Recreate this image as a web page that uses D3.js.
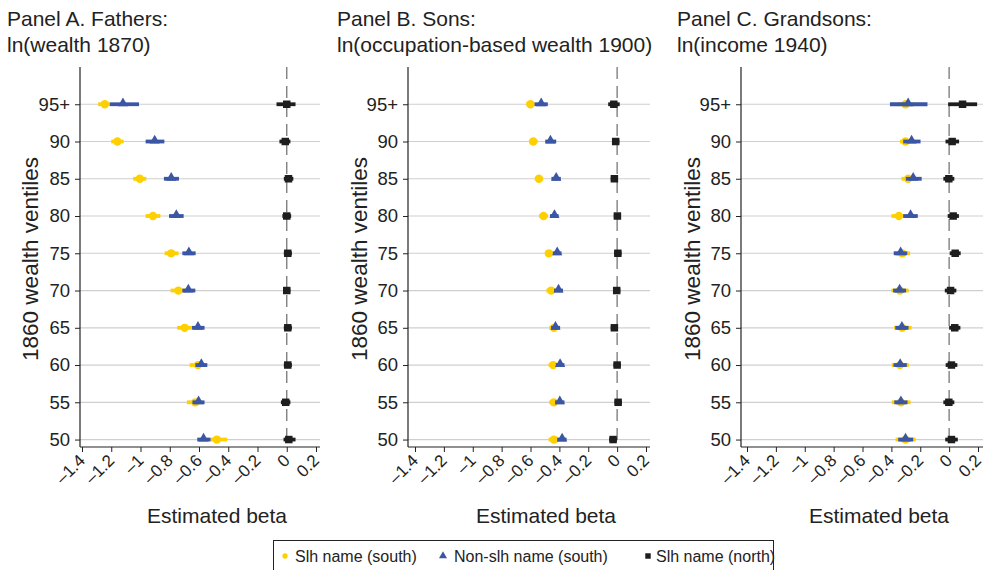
<!DOCTYPE html>
<html>
<head>
<meta charset="utf-8">
<script src="https://cdn.jsdelivr.net/npm/d3@7/dist/d3.min.js"></script>
<style>
  html, body { margin: 0; padding: 0; background: #fff; }
  svg { display: block; font-family: "Liberation Sans", Arial, Helvetica, sans-serif; }
</style>
</head>
<body>
<svg id="chart" width="986" height="570"></svg>
<script>
// Wealth ventiles of 1860 (rows) and their tick labels
const ventiles = [50, 55, 60, 65, 70, 75, 80, 85, 90, 95];
const ventileLabels = ["50", "55", "60", "65", "70", "75", "80", "85", "90", "95+"];
const xTicks = [-1.4, -1.2, -1, -0.8, -0.6, -0.4, -0.2, 0, 0.2];

const panelTitles = [
  ["Panel A. Fathers:", "ln(wealth 1870)"],
  ["Panel B. Sons:", "ln(occupation-based wealth 1900)"],
  ["Panel C. Grandsons:", "ln(income 1940)"]
];
const seriesNames = ["Slh name (south)", "Non-slh name (south)", "Slh name (north)"];
const seriesColors = ["#FFD000", "#3A56A5", "#1E1E1E"];

// Panel A: fathers
const fatherSlhSouth   = [-0.478, -0.625, -0.607, -0.698, -0.741, -0.790, -0.915, -1.005, -1.158, -1.244];
const fatherSlhSouthLo = [-0.521, -0.683, -0.664, -0.750, -0.794, -0.835, -0.965, -1.050, -1.200, -1.290];
const fatherSlhSouthHi = [-0.407, -0.591, -0.575, -0.648, -0.691, -0.740, -0.864, -0.960, -1.115, -1.210];
const fatherNonSouth   = [-0.569, -0.603, -0.584, -0.607, -0.673, -0.669, -0.755, -0.790, -0.903, -1.120];
const fatherNonSouthLo = [-0.612, -0.645, -0.625, -0.648, -0.714, -0.714, -0.805, -0.840, -0.965, -1.210];
const fatherNonSouthHi = [-0.521, -0.562, -0.543, -0.562, -0.625, -0.623, -0.705, -0.737, -0.837, -1.010];
const fatherSlhNorth   = [0.014, -0.007, 0.007, 0.007, 0.000, 0.007, 0.000, 0.012, -0.010, 0.000];
const fatherSlhNorthLo = [-0.022, -0.040, -0.020, -0.020, -0.025, -0.020, -0.030, -0.020, -0.050, -0.070];
const fatherSlhNorthHi = [0.060, 0.025, 0.035, 0.035, 0.025, 0.035, 0.030, 0.045, 0.025, 0.060];

// Panel B: sons
const sonSlhSouth   = [-0.438, -0.438, -0.443, -0.438, -0.457, -0.473, -0.510, -0.542, -0.581, -0.600];
const sonSlhSouthLo = [-0.475, -0.470, -0.475, -0.470, -0.490, -0.500, -0.540, -0.570, -0.610, -0.630];
const sonSlhSouthHi = [-0.408, -0.408, -0.413, -0.408, -0.427, -0.443, -0.480, -0.512, -0.551, -0.572];
const sonNonSouth   = [-0.381, -0.397, -0.395, -0.427, -0.406, -0.415, -0.434, -0.422, -0.462, -0.526];
const sonNonSouthLo = [-0.415, -0.430, -0.425, -0.458, -0.437, -0.445, -0.465, -0.455, -0.498, -0.572];
const sonNonSouthHi = [-0.350, -0.365, -0.365, -0.395, -0.375, -0.385, -0.405, -0.390, -0.422, -0.480];
const sonSlhNorth   = [-0.028, 0.007, 0.000, -0.019, -0.003, 0.005, 0.002, -0.019, -0.010, -0.023];
const sonSlhNorthLo = [-0.055, -0.018, -0.025, -0.044, -0.028, -0.020, -0.023, -0.044, -0.035, -0.062];
const sonSlhNorthHi = [-0.001, 0.032, 0.025, 0.006, 0.022, 0.030, 0.027, 0.006, 0.015, 0.018];

// Panel C: grandsons
const grandSlhSouth   = [-0.302, -0.334, -0.341, -0.325, -0.341, -0.325, -0.348, -0.284, -0.302, -0.302];
const grandSlhSouthLo = [-0.371, -0.397, -0.397, -0.381, -0.400, -0.385, -0.400, -0.330, -0.340, -0.360];
const grandSlhSouthHi = [-0.232, -0.267, -0.279, -0.260, -0.280, -0.270, -0.307, -0.260, -0.270, -0.240];
const grandNonSouth   = [-0.302, -0.334, -0.339, -0.327, -0.343, -0.336, -0.267, -0.249, -0.260, -0.284];
const grandNonSouthLo = [-0.353, -0.380, -0.385, -0.373, -0.388, -0.383, -0.318, -0.300, -0.318, -0.410];
const grandNonSouthHi = [-0.249, -0.288, -0.293, -0.281, -0.298, -0.290, -0.217, -0.190, -0.198, -0.150];
const grandSlhNorth   = [0.016, -0.002, 0.016, 0.039, 0.010, 0.042, 0.028, -0.002, 0.021, 0.093];
const grandSlhNorthLo = [-0.027, -0.040, -0.024, 0.000, -0.030, 0.004, -0.010, -0.040, -0.025, -0.007];
const grandSlhNorthHi = [0.060, 0.036, 0.057, 0.078, 0.050, 0.080, 0.068, 0.036, 0.069, 0.194];

const panelData = [
  [[fatherSlhSouth, fatherSlhSouthLo, fatherSlhSouthHi],
   [fatherNonSouth, fatherNonSouthLo, fatherNonSouthHi],
   [fatherSlhNorth, fatherSlhNorthLo, fatherSlhNorthHi]],
  [[sonSlhSouth, sonSlhSouthLo, sonSlhSouthHi],
   [sonNonSouth, sonNonSouthLo, sonNonSouthHi],
   [sonSlhNorth, sonSlhNorthLo, sonSlhNorthHi]],
  [[grandSlhSouth, grandSlhSouthLo, grandSlhSouthHi],
   [grandNonSouth, grandNonSouthLo, grandNonSouthHi],
   [grandSlhNorth, grandSlhNorthLo, grandSlhNorthHi]]
];

// Panel frames: y-axis position, pixel span of -1.4 .. 0.2, right edge of plot area
const frames = [
  { axis: 80,  x0: 82,  x1: 316, right: 320, title: 7,   ylab: 30 },
  { axis: 408, x0: 415, x1: 646, right: 650, title: 337, ylab: 359 },
  { axis: 741, x0: 747, x1: 978, right: 983, title: 677, ylab: 692 }
];
const plotTop = 67, plotBottom = 447;

const svg = d3.select("#chart");
const y = d3.scaleLinear().domain([49, 100]).range([plotBottom, plotTop]);
const fmt = v => (v < 0 ? "\u2013" : "") + String(Math.abs(v));

const tri = d3.symbol().type(d3.symbolTriangle).size(44);
const sq = d3.symbol().type(d3.symbolSquare).size(56);
const dot = d3.symbol().type(d3.symbolCircle).size(54);
const shapes = [dot, tri, sq];

frames.forEach((f, p) => {
  const x = d3.scaleLinear().domain([-1.4, 0.2]).range([f.x0, f.x1]);
  const g = svg.append("g");

  // Titles
  const t = g.append("text").attr("x", f.title).attr("y", 26)
    .attr("font-size", 21).attr("fill", "#222");
  t.append("tspan").attr("x", f.title).text(panelTitles[p][0]);
  t.append("tspan").attr("x", f.title).attr("dy", 26).text(panelTitles[p][1]);

  // Gridlines
  g.selectAll("line.grid").data(ventiles).join("line")
    .attr("x1", f.axis).attr("x2", f.right)
    .attr("y1", d => y(d)).attr("y2", d => y(d))
    .attr("stroke", "#cfcfcf").attr("stroke-width", 1.2);

  // Zero reference line
  g.append("line")
    .attr("x1", x(0)).attr("x2", x(0))
    .attr("y1", plotTop).attr("y2", plotBottom)
    .attr("stroke", "#777").attr("stroke-width", 1.3)
    .attr("stroke-dasharray", "12,7");

  // Y axis
  const yAxis = d3.axisLeft(y).tickValues(ventiles)
    .tickFormat((d, i) => ventileLabels[i]).tickSizeOuter(0).tickSize(5).tickPadding(5);
  const ya = g.append("g").attr("transform", `translate(${f.axis},0)`).call(yAxis);
  ya.select(".domain").attr("d", `M0,${plotTop}V${plotBottom}`).attr("stroke", "#222").attr("stroke-width", 1.2);
  ya.selectAll(".tick line").attr("stroke", "#222");
  ya.selectAll(".tick text").attr("font-size", 18.5).attr("fill", "#222")
    .attr("font-family", "Liberation Sans, Arial, sans-serif");

  // X axis
  const xAxis = d3.axisBottom(x).tickValues(xTicks).tickFormat(fmt)
    .tickSizeOuter(0).tickSize(5);
  const xa = g.append("g").attr("transform", `translate(0,${plotBottom})`).call(xAxis);
  xa.select(".domain").attr("d", `M${f.axis},0H${f.right}`).attr("stroke", "#222").attr("stroke-width", 1.2);
  xa.selectAll(".tick line").attr("stroke", "#222");
  xa.selectAll(".tick text")
    .attr("font-size", 17).attr("fill", "#222")
    .attr("font-family", "Liberation Sans, Arial, sans-serif")
    .attr("text-anchor", "end").attr("y", 0).attr("dy", "0.3em")
    .attr("transform", "translate(0,11) rotate(-45)");

  // Axis titles
  g.append("text").attr("x", (f.axis + f.right) / 2 + 17).attr("y", 523)
    .attr("text-anchor", "middle").attr("font-size", 21).attr("fill", "#222")
    .text("Estimated beta");
  g.append("text")
    .attr("transform", `translate(${f.ylab + 8},${(plotTop + plotBottom) / 2 + 2}) rotate(-90)`)
    .attr("text-anchor", "middle").attr("font-size", 22.5).attr("fill", "#222")
    .text("1860 wealth ventiles");

  // Series: confidence intervals and point estimates
  panelData[p].forEach((s, k) => {
    const [est, lo, hi] = s;
    const rows = ventiles.map((v, i) => ({ v, est: est[i], lo: lo[i], hi: hi[i] }));
    const sg = g.append("g");
    sg.selectAll("line").data(rows).join("line")
      .attr("x1", d => x(d.lo)).attr("x2", d => x(d.hi))
      .attr("y1", d => y(d.v)).attr("y2", d => y(d.v))
      .attr("stroke", seriesColors[k]).attr("stroke-width", 3.8);
    sg.selectAll("path").data(rows).join("path")
      .attr("d", shapes[k])
      .attr("transform", d => `translate(${x(d.est)},${y(d.v) + (k === 1 ? -1 : 0)})`)
      .attr("fill", seriesColors[k]);
  });
});

// Legend
const lg = svg.append("g");
lg.append("rect").attr("x", 273.5).attr("y", 540.5).attr("width", 500).attr("height", 40)
  .attr("fill", "none").attr("stroke", "#222").attr("stroke-width", 1);
const legendPos = [{ m: 285, t: 295 }, { m: 443, t: 454 }, { m: 648, t: 656 }];
const legendShapes = [
  d3.symbol().type(d3.symbolCircle).size(22),
  d3.symbol().type(d3.symbolTriangle).size(28),
  d3.symbol().type(d3.symbolSquare).size(30)
];
seriesNames.forEach((n, k) => {
  lg.append("path").attr("d", legendShapes[k])
    .attr("transform", `translate(${legendPos[k].m},${556})`)
    .attr("fill", seriesColors[k]);
  lg.append("text").attr("x", legendPos[k].t).attr("y", 562)
    .attr("font-size", 16).attr("fill", "#222").text(n);
});
</script>
</body>
</html>
